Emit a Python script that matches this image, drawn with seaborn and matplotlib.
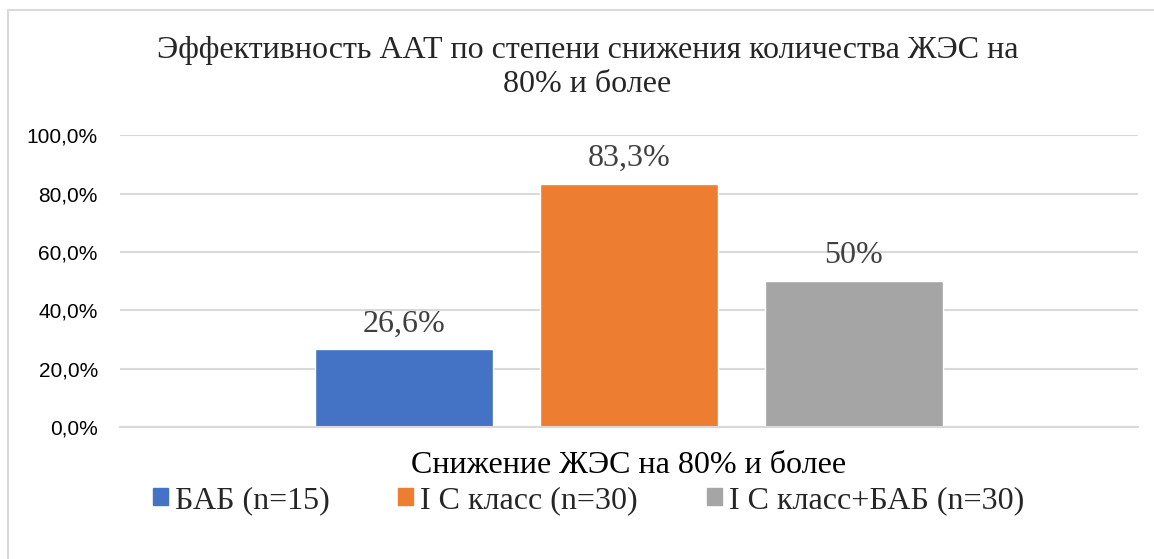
import pandas as pd
import matplotlib
matplotlib.use("Agg")
import matplotlib.pyplot as plt
from matplotlib.lines import Line2D
from matplotlib.ticker import FuncFormatter
import seaborn as sns

# Данные графика
category = ["Снижение ЖЭС на 80% и более"]
groups = ["БАБ (n=15)", "I С класс (n=30)", "I С класс+БАБ (n=30)"]
values = [0.266, 0.833, 0.50]
value_labels = ["26,6%", "83,3%", "50%"]
colors = ["#4472C4", "#ED7D31", "#A5A5A5"]
title = "Эффективность ААТ по степени снижения количества ЖЭС на\n80% и более"

SERIF = ["Liberation Serif", "DejaVu Serif"]
SANS = ["Liberation Sans", "DejaVu Sans"]

df = pd.DataFrame({"cat": category * len(groups), "grupo": groups, "valor": values})

sns.set_style("white")
plt.rcParams["font.family"] = SERIF

fig = plt.figure(figsize=(11.54, 5.59), dpi=100)
ax = fig.add_axes([0.104, 0.236, 0.882, 0.522])

sns.barplot(data=df, x="cat", y="valor", hue="grupo", palette=colors,
            width=0.663, gap=0.21, saturation=1, ax=ax, legend=False)

# Etiquetas sobre las barras
for cont, lab in zip(ax.containers, value_labels):
    ax.bar_label(cont, labels=[lab], padding=8, fontsize=23, color="#404040",
                 fontfamily=SERIF)

ax.set_ylim(0, 1.0)
ax.set_yticks([0, 0.2, 0.4, 0.6, 0.8, 1.0])
ax.yaxis.set_major_formatter(FuncFormatter(lambda v, p: f"{v*100:.1f}%".replace(".", ",")))
ax.tick_params(axis="y", length=0, pad=16, labelcolor="#000000")
ax.tick_params(axis="x", length=0, pad=17, labelcolor="#000000")
for t in ax.get_yticklabels():
    t.set_fontfamily(SANS)
    t.set_fontsize(15)
for t in ax.get_xticklabels():
    t.set_fontfamily(SERIF)
    t.set_fontsize(23)
ax.grid(axis="y", color="#D9D9D9", linewidth=1.5)
ax.set_axisbelow(True)
for s in ["left", "right", "top"]:
    ax.spines[s].set_visible(False)
ax.spines["bottom"].set_color("#D9D9D9")
ax.spines["bottom"].set_linewidth(1.5)
ax.set_xlabel("")
ax.set_ylabel("")

fig.suptitle(title, fontsize=23, x=0.509, y=0.935, va="top", linespacing=1.2,
             fontfamily=SERIF)

# Leyenda
handles = [plt.Rectangle((0, 0), 1, 1, color=c) for c in colors]
fig.legend(handles, groups, loc="center", bbox_to_anchor=(0.51, 0.105), ncol=3,
           frameon=False, prop={"family": SERIF, "size": 23},
           handlelength=0.47, handleheight=0.47,
           handletextpad=0.22, columnspacing=2.15)

# Marco del gráfico
fig.add_artist(Line2D([0.007, 0.007], [0.0, 0.982], color="#D9D9D9", linewidth=1.5))
fig.add_artist(Line2D([0.007, 1.0], [0.982, 0.982], color="#D9D9D9", linewidth=1.5))

fig.savefig("out.png", dpi=100)
